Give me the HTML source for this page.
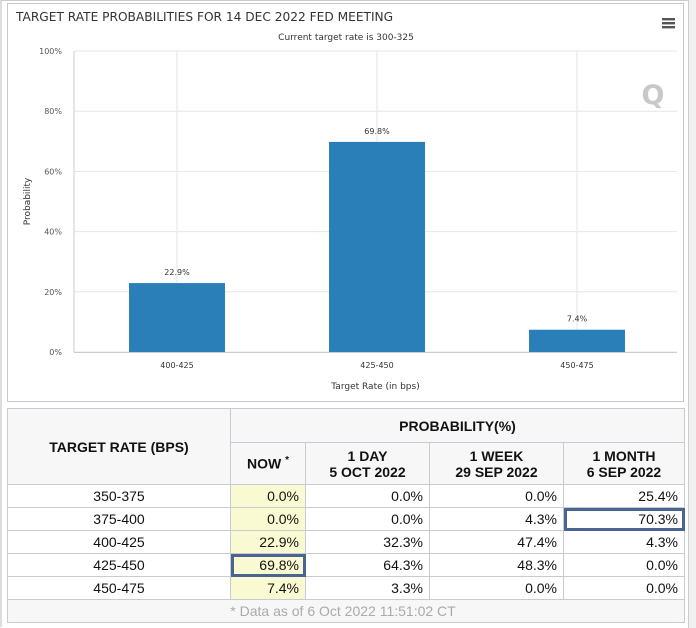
<!DOCTYPE html>
<html><head><meta charset="utf-8"><style>
body{margin:0;width:696px;height:628px;background:#fff;position:relative;overflow:hidden;font-family:"Liberation Sans",sans-serif}
.frame{position:absolute;left:0;top:0;width:686px;height:626px;border-right:2px solid #ccc;border-left:2px solid #ddd;border-top:1px solid #ccc}
.scroll{position:absolute;left:688px;top:0;width:8px;height:628px;background:#f0f0f0;border-left:1px solid #ccc}
#chartbox{position:absolute;left:7px;top:3px;width:675px;height:397px;border:1px solid #c8c8c8;background:#fff}
table{position:absolute;left:7px;top:408px;border-collapse:collapse;font-size:14px;color:#111}
td,th{border:1px solid #c9cbd2;padding:0}
th{background:#f7f7f7;font-weight:bold;font-size:14px}
td{text-align:right;padding-right:6px;height:22px}
td.r{text-align:center;padding:0}
td.now{background:#fafad2}
td.box{outline:3px solid #4a6592;outline-offset:-3px}
.foot{text-align:center;color:#aaa;background:#f7f7f7;font-size:14px}
</style></head><body>
<div class="frame"></div>
<div class="scroll"></div>
<div id="chartbox">
<svg id="chart" width="675" height="397" style="position:absolute;left:0;top:0;font-family:'DejaVu Sans',sans-serif"></svg>
</div>
<table>
<tr style="height:34px"><th rowspan="2" style="width:222px">TARGET RATE (BPS)</th><th colspan="4">PROBABILITY(%)</th></tr>
<tr style="height:42px"><th style="width:74px">NOW <sup style="font-size:10px">*</sup></th><th style="width:123px">1 DAY<br>5 OCT 2022</th><th style="width:133px">1 WEEK<br>29 SEP 2022</th><th style="width:120px">1 MONTH<br>6 SEP 2022</th></tr>
<tr><td class="r">350-375</td><td class="now">0.0%</td><td>0.0%</td><td>0.0%</td><td>25.4%</td></tr>
<tr><td class="r">375-400</td><td class="now">0.0%</td><td>0.0%</td><td>4.3%</td><td class="box">70.3%</td></tr>
<tr><td class="r">400-425</td><td class="now">22.9%</td><td>32.3%</td><td>47.4%</td><td>4.3%</td></tr>
<tr><td class="r">425-450</td><td class="now box">69.8%</td><td>64.3%</td><td>48.3%</td><td>0.0%</td></tr>
<tr><td class="r">450-475</td><td class="now">7.4%</td><td>3.3%</td><td>0.0%</td><td>0.0%</td></tr>
<tr style="height:21px"><td colspan="5" class="foot">* Data as of 6 Oct 2022 11:51:02 CT</td></tr>
</table>
<script>
const categories=["400-425","425-450","450-475"];
const values=[22.9,69.8,7.4];
const yTicks=[0,20,40,60,80,100];
const svg=document.getElementById('chart');
const NS='http://www.w3.org/2000/svg';
const L=66,R=666,T=47,B=348;
const y=v=>B-(v/100)*(B-T);
const bw=(R-L)/categories.length;
const x=i=>L+3+bw*(i+0.5);
function mk(tag,attrs,txt){const e=document.createElementNS(NS,tag);for(const k in attrs)e.setAttribute(k,attrs[k]);if(txt!=null)e.textContent=txt;svg.appendChild(e);return e;}
let t=mk('text',{x:8,y:17,'font-size':12.2,fill:'#333','font-family':'DejaVu Sans,sans-serif'},'TARGET RATE PROBABILITIES FOR 14 DEC 2022 FED MEETING');

t=mk('text',{x:338,y:36,'font-size':9,fill:'#333','text-anchor':'middle'},'Current target rate is 300-325');

for(let k=0;k<3;k++){const r=mk('rect',{x:654,y:14+k*4,width:13,height:2.4,fill:'#555'});}
t=mk('text',{x:645,y:100,'font-size':27,'font-weight':'bold',fill:'#c8c8c8','text-anchor':'middle'},'Q');

yTicks.forEach(v=>{const g=mk('line',{x1:L,x2:669,y1:y(v),y2:y(v),stroke:'#e6e6e6'});
const l=mk('text',{x:L-12,y:y(v)+3,'font-size':8,fill:'#555','text-anchor':'end'},v+'%');});
categories.forEach((c,i)=>{const g=mk('line',{x1:x(i),x2:x(i),y1:T,y2:B,stroke:'#e6e6e6'});});
let a=mk('line',{x1:L,x2:L,y1:T,y2:B,stroke:'#ccc'});
a=mk('line',{x1:L,x2:669,y1:B+0.5,y2:B+0.5,stroke:'#ccc'});
categories.forEach((c,i)=>{const w=96;
const b=mk('rect',{x:x(i)-w/2,y:y(values[i]),width:w,height:B-y(values[i]),fill:'#2b7fb8'});
const vl=mk('text',{x:x(i),y:y(values[i])-8,'font-size':8,fill:'#333','text-anchor':'middle'},values[i].toFixed(1)+'%');
const xl=mk('text',{x:x(i),y:B+16,'font-size':8,fill:'#333','text-anchor':'middle'},c);});
t=mk('text',{x:(L+669)/2,y:B+37,'font-size':9,fill:'#333','text-anchor':'middle'},'Target Rate (in bps)');
t=mk('text',{x:0,y:0,'font-size':9,fill:'#333','text-anchor':'middle',transform:'translate(22,'+((T+B)/2)+') rotate(-90)'},'Probability');
</script>
</body></html>
